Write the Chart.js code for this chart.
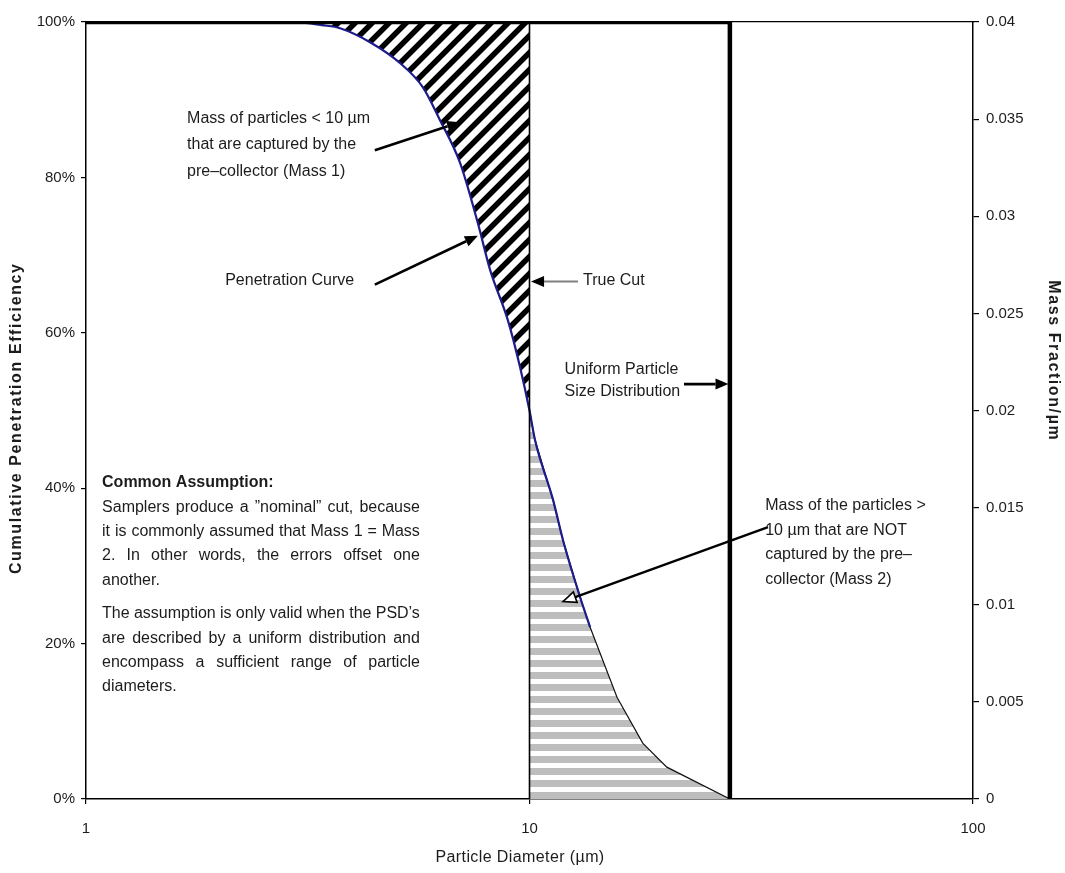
<!DOCTYPE html>
<html>
<head>
<meta charset="utf-8">
<script src="https://cdn.jsdelivr.net/npm/chart.js@4.4.1/dist/chart.umd.min.js"></script>
<style>
  html, body { margin: 0; padding: 0; background: #fff; }
  canvas { display: block; }
</style>
</head>
<body>
<canvas id="chart" width="1065" height="873"></canvas>
<script>
// Penetration curve: particle diameter (µm) vs cumulative penetration efficiency (%)
const diameterUm    = [1, 3.0, 3.4, 3.74, 4.37, 5.11, 5.75, 6.28, 6.97, 7.65, 8.15, 8.94, 9.52, 10, 10.29, 11.3, 11.9, 13.0, 13.7, 14.42, 15.75, 18.0, 20.4, 28.3];
const efficiencyPct = [100, 100, 99.6, 99.2, 97.4, 94.7, 91.6, 87.4, 81.9, 74.1, 68.1, 61.6, 55.6, 50, 46.2, 38.5, 33.3, 26.0, 22.1, 18.8, 13.1, 7.2, 4.1, 0];

// Where the drawn (blue) penetration curve stops; below this only the area outline remains
const curveEndUm = 14.0;

// Sampler cut point (µm)
const trueCutUm = 10;

// Uniform particle size distribution (mass fraction per µm, right axis)
const uniformDiameterUm   = [1, 28.3, 28.3];
const uniformMassFraction = [0.04, 0.04, 0];

// Axis ticks
const xTickValues      = [1, 10, 100];
const yLeftTickValues  = [0, 20, 40, 60, 80, 100];
const yRightTickValues = [0, 0.005, 0.01, 0.015, 0.02, 0.025, 0.03, 0.035, 0.04];
const yRightTickLabels = ['0', '0.005', '0.01', '0.015', '0.02', '0.025', '0.03', '0.035', '0.04'];

const FONT = '"Liberation Sans", Arial, Helvetica, sans-serif';
const TEXT = '#1c1c1c';

const canvas = document.getElementById('chart');
const ctx = canvas.getContext('2d');

// Diagonal black hatching ("/") for the mass captured below the cut, built pixel by pixel so tiles join seamlessly
function makeHatch() {
  const s = 17, w = 7;
  const c = document.createElement('canvas');
  c.width = s; c.height = s;
  const g = c.getContext('2d');
  const img = g.createImageData(s, s);
  for (let j = 0; j < s; j++) {
    for (let i = 0; i < s; i++) {
      const k = (i + j) % s;
      // soft edge on each side of the stripe
      let v = k < w ? 0 : 255;
      if (k === w) v = 130;
      if (k === s - 1) v = 170;
      const o = (j * s + i) * 4;
      img.data[o] = img.data[o + 1] = img.data[o + 2] = v;
      img.data[o + 3] = 255;
    }
  }
  g.putImageData(img, 0, 0);
  return ctx.createPattern(c, 'repeat');
}

// Grey horizontal bands for the mass passed above the cut
function makeBands() {
  const c = document.createElement('canvas');
  c.width = 4; c.height = 12;
  const g = c.getContext('2d');
  g.fillStyle = '#fff';
  g.fillRect(0, 0, 4, 12);
  g.fillStyle = '#bdbdbd';
  g.fillRect(0, 0, 4, 7);
  return ctx.createPattern(c, 'repeat');
}

const pts = (xs, ys) => xs.map((x, i) => ({ x, y: ys[i] }));
const curvePts   = pts(diameterUm, efficiencyPct);
const belowCut   = curvePts.filter(p => p.x <= trueCutUm);
const aboveCut   = curvePts.filter(p => p.x >= trueCutUm);
const drawnCurve = curvePts.filter(p => p.x >= 3.0 && p.x <= curveEndUm);

// Annotations (positions in data units: x in µm, y in % on the left axis)
const labelNotes = [
  { lines: ['Mass of particles < 10 \u00b5m', 'that are captured by the', 'pre\u2013collector (Mass 1)'], x: 1.69, y: [87.6, 84.2, 80.8] },
  { lines: ['Penetration Curve'], x: 2.06, y: [66.7] },
  { lines: ['True Cut'], x: 13.2, y: [66.7] },
  { lines: ['Uniform Particle', 'Size Distribution'], x: 12.0, y: [55.3, 52.4] },
  { lines: ['Mass of the particles >', '10 \u00b5m that are NOT', 'captured by the pre\u2013', 'collector (Mass 2)'], x: 34.0, y: [37.8, 34.6, 31.4, 28.2] }
];

const arrows = [
  { from: [4.48, 83.5], to: [6.97, 87.1], color: '#000', head: '#000', width: 2.6 },
  { from: [4.48, 66.2], to: [7.65, 72.5], color: '#000', head: '#000', width: 2.6 },
  { from: [12.86, 66.6], to: [10.08, 66.6], color: '#808080', head: '#000', width: 2 },
  { from: [22.3, 53.4], to: [28.1, 53.4], color: '#000', head: '#000', width: 2.6 },
  { from: [34.5, 35.0], to: [11.9, 25.4], color: '#000', head: 'open', width: 2.4 }
];

const assumption = {
  title: 'Common Assumption:',
  titleY: 40.7,
  x0: 1.087,
  x1: 5.66,
  lines: [
    { t: 'Samplers produce a \u201dnominal\u201d cut, because', y: 37.5, j: true },
    { t: 'it is commonly assumed that Mass 1 = Mass', y: 34.4, j: true },
    { t: '2.  In other words, the errors offset one', y: 31.3, j: true },
    { t: 'another.', y: 28.1, j: false },
    { t: 'The assumption is only valid when the PSD\u2019s', y: 23.8, j: true },
    { t: 'are described by a uniform distribution and', y: 20.7, j: true },
    { t: 'encompass a sufficient range of particle', y: 17.6, j: true },
    { t: 'diameters.', y: 14.5, j: false }
  ]
};

function drawArrow(g, x1, y1, x2, y2, a) {
  const ang = Math.atan2(y2 - y1, x2 - x1);
  const hl = 13, hw = 5.5;
  const bx = x2 - hl * Math.cos(ang), by = y2 - hl * Math.sin(ang);
  const nx = -Math.sin(ang), ny = Math.cos(ang);
  g.save();
  g.lineCap = 'butt';
  g.strokeStyle = a.color;
  g.lineWidth = a.width;
  g.beginPath();
  g.moveTo(x1, y1);
  g.lineTo(bx, by);
  g.stroke();
  g.beginPath();
  g.moveTo(x2, y2);
  g.lineTo(bx + nx * hw, by + ny * hw);
  g.lineTo(bx - nx * hw, by - ny * hw);
  g.closePath();
  if (a.head === 'open') {
    g.fillStyle = '#fff';
    g.fill();
    g.lineWidth = 1.6;
    g.strokeStyle = '#000';
    g.stroke();
  } else {
    g.fillStyle = a.head;
    g.fill();
  }
  g.restore();
}

function drawJustified(g, text, x0, x1, y, justify) {
  if (!justify) { g.fillText(text, x0, y); return; }
  const words = text.split(/\s+/).filter(Boolean);
  const widths = words.map(w => g.measureText(w).width);
  const total = widths.reduce((s, w) => s + w, 0);
  const gap = (x1 - x0 - total) / (words.length - 1);
  let x = x0;
  words.forEach((w, i) => { g.fillText(w, x, y); x += widths[i] + gap; });
}

const annotationPlugin = {
  id: 'annotations',
  afterDraw(chart) {
    const g = chart.ctx;
    const sx = chart.scales.x, sy = chart.scales.y;
    const X = v => sx.getPixelForValue(v);
    const Y = v => sy.getPixelForValue(v);
    const area = chart.chartArea;

    g.save();
    g.fillStyle = TEXT;
    g.textBaseline = 'middle';
    g.textAlign = 'left';
    g.font = '16px ' + FONT;
    labelNotes.forEach(n => n.lines.forEach((l, i) => g.fillText(l, X(n.x), Y(n.y[i]))));

    // Common assumption block
    g.font = 'bold 16px ' + FONT;
    g.fillText(assumption.title, X(assumption.x0), Y(assumption.titleY));
    g.font = '16px ' + FONT;
    assumption.lines.forEach(l => drawJustified(g, l.t, X(assumption.x0), X(assumption.x1), Y(l.y), l.j));

    arrows.forEach(a => drawArrow(g, X(a.from[0]), Y(a.from[1]), X(a.to[0]), Y(a.to[1]), a));

    // Axis titles
    g.textAlign = 'center';
    g.font = 'bold 16px ' + FONT;
    g.letterSpacing = '1.6px';
    g.save();
    g.translate(area.left - 69, Y(49.0));
    g.rotate(-Math.PI / 2);
    g.fillText('Cumulative Penetration Efficiency', 0, 0);
    g.restore();
    g.save();
    g.translate(area.right + 80, Y(56.4));
    g.rotate(Math.PI / 2);
    g.fillText('Mass Fraction/\u00b5m', 0, 0);
    g.restore();
    g.letterSpacing = '0.4px';
    g.font = '16px ' + FONT;
    g.fillText('Particle Diameter (\u00b5m)', X(9.52), area.bottom + 59);
    g.letterSpacing = '0px';
    g.restore();
  }
};

const tickFont = { family: FONT, size: 15 };

new Chart(ctx, {
  type: 'line',
  data: {
    datasets: [
      {
        label: 'Uniform Particle Size Distribution',
        data: pts(uniformDiameterUm, uniformMassFraction),
        yAxisID: 'y2',
        borderColor: '#000',
        borderWidth: 4.5,
        borderJoinStyle: 'miter',
        fill: false,
        order: 0
      },
      {
        label: 'True Cut',
        data: [{ x: trueCutUm, y: 0 }, { x: trueCutUm, y: 100 }],
        borderColor: '#000',
        borderWidth: 1.6,
        fill: false,
        order: 1
      },
      {
        label: 'Penetration Curve',
        data: drawnCurve,
        borderColor: '#1c1c8a',
        borderWidth: 2.2,
        cubicInterpolationMode: 'monotone',
        fill: false,
        order: 2
      },
      {
        label: 'Mass 1',
        data: belowCut,
        borderColor: 'transparent',
        borderWidth: 0,
        cubicInterpolationMode: 'monotone',
        backgroundColor: makeHatch(),
        fill: { value: 100 },
        order: 3
      },
      {
        label: 'Mass 2',
        data: aboveCut,
        borderColor: '#111',
        borderWidth: 1.2,
        backgroundColor: makeBands(),
        fill: 'origin',
        order: 4
      }
    ]
  },
  options: {
    responsive: false,
    animation: false,
    events: [],
    layout: { padding: 0 },
    elements: { point: { radius: 0 }, line: { tension: 0 } },
    plugins: { legend: { display: false }, tooltip: { enabled: false } },
    scales: {
      x: {
        type: 'logarithmic',
        position: 'bottom',
        min: 1,
        max: 100,
        afterBuildTicks: s => { s.ticks = xTickValues.map(v => ({ value: v, major: true })); },
        afterFit: s => { s.height = 74; },
        ticks: { callback: v => String(v), font: tickFont, color: TEXT, padding: 16, autoSkip: false, maxRotation: 0 },
        grid: { drawOnChartArea: false, drawTicks: true, tickLength: 5, color: '#000', lineWidth: 1.2 },
        border: { color: '#000', width: 1.5 }
      },
      xTop: {
        type: 'linear',
        position: 'top',
        ticks: { display: false },
        grid: { display: false },
        afterFit: s => { s.height = 22; },
        border: { color: '#000', width: 1.2 }
      },
      y: {
        position: 'left',
        min: 0,
        max: 100,
        afterBuildTicks: s => { s.ticks = yLeftTickValues.map(v => ({ value: v })); },
        afterFit: s => { s.width = 86; },
        ticks: { callback: v => v + '%', font: tickFont, color: TEXT, padding: 6 },
        grid: { drawOnChartArea: false, drawTicks: true, tickLength: 5, color: '#000', lineWidth: 1.2 },
        border: { color: '#000', width: 1.5 }
      },
      y2: {
        position: 'right',
        min: 0,
        max: 0.04,
        afterBuildTicks: s => { s.ticks = yRightTickValues.map(v => ({ value: v })); },
        afterFit: s => { s.width = 92; },
        ticks: { callback: (v, i) => yRightTickLabels[i], font: tickFont, color: TEXT, padding: 7 },
        grid: { drawOnChartArea: false, drawTicks: true, tickLength: 6, color: '#000', lineWidth: 1.2 },
        border: { color: '#000', width: 1.5 }
      }
    }
  },
  plugins: [annotationPlugin]
});
</script>
</body>
</html>
